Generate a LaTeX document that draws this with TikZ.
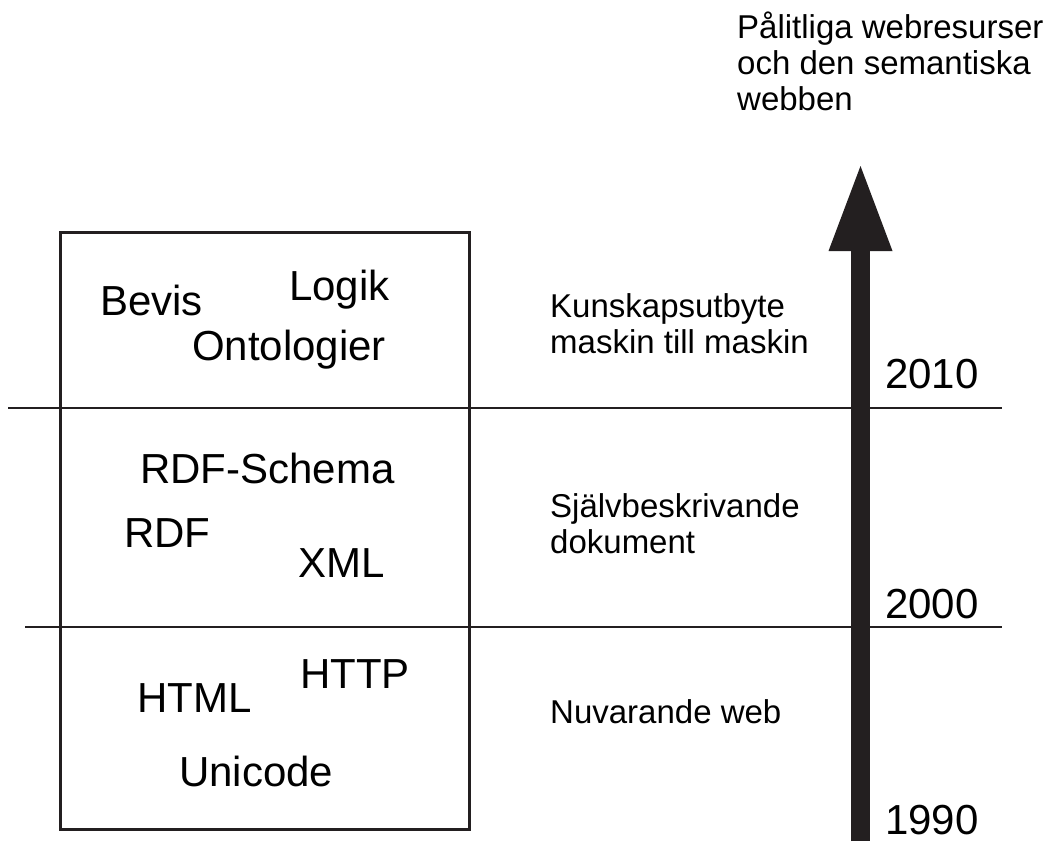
\documentclass[tikz,border=0pt]{standalone}
\usepackage{fontspec}
\setmainfont{Liberation Sans}
\usetikzlibrary{arrows.meta}
\definecolor{mork}{RGB}{35,31,32}
\begin{document}
\begin{tikzpicture}[x=1pt,y=-1pt,
    lager/.style={anchor=base west,inner sep=0pt,font=\fontsize{42}{48}\selectfont},
    beskr/.style={anchor=base west,inner sep=0pt,align=left,font=\fontsize{33}{36}\selectfont}]%{{{
\useasboundingbox (0,0) rectangle (1043,841);
%
% Skikt
\draw [mork, line width=3pt] (60,232) rectangle (469,829);
\draw [mork, line width=1.8pt] (8,408)  -- (1002,408);
\draw [mork, line width=1.8pt] (25,627) -- (1002,627);
%
% Tidslinje
\coordinate (start) at (860.5,841);
\coordinate (topp)  at (860.5,166);
\draw [mork, line width=19pt,
       -{Triangle[width=64pt,length=85pt,line width=0pt]}] (start) -- (topp);
%
% Tekniker
\node [lager] (bevis) at (100,315) {Bevis};
\node [lager] (logik) at (289,300) {Logik};
\node [lager] (onto)  at (192,360) {Ontologier};
\node [lager] (rdfs)  at (140,483) {RDF-Schema};
\node [lager] (rdf)   at (124,547) {RDF};
\node [lager] (xml)   at (298,577) {XML};
\node [lager] (http)  at (300,688) {HTTP};
\node [lager] (html)  at (137,712) {HTML};
\node [lager] (uni)   at (179,786) {Unicode};
%
% Beskrivningar (base = sista raden)
\node [beskr] (kunskap) at (550,353) {Kunskapsutbyte\\maskin till maskin};
\node [beskr] (sjalv)   at (550,553) {Självbeskrivande\\dokument};
\node [beskr] (nuweb)   at (550,723) {Nuvarande web};
\node [beskr] (mal)     at (737,110) {Pålitliga webresurser\\och den semantiska\\webben};
%
% Årtal
\node [lager] (ar2010) at (885,388) {2010};
\node [lager] (ar2000) at (885,618) {2000};
\node [lager] (ar1990) at (885,834) {1990};
%
\end{tikzpicture}
\end{document}
